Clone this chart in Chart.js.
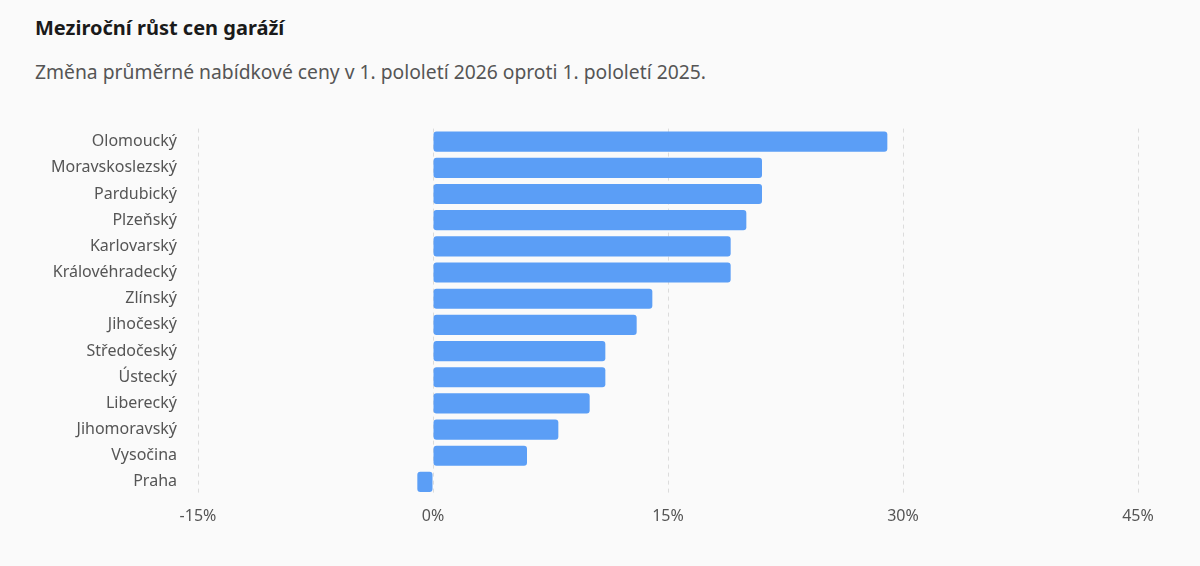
<!DOCTYPE html>
<html>
<head>
<meta charset="utf-8">
<script src="https://cdn.jsdelivr.net/npm/chart.js@4"></script>
<style>
  body { margin: 0; background: #fafafa; font-family: "Noto Sans", sans-serif; width: 1200px; height: 566px; position: relative; overflow: hidden; }
  h1 { position: absolute; left: 35px; top: 14px; margin: 0; font-size: 20px; font-weight: 700; color: #1a1a1a; }
  p { position: absolute; left: 35px; top: 58px; margin: 0; font-size: 19.3px; color: #555; }
  #wrap { position: absolute; left: 0; top: 106px; width: 1200px; height: 460px; }
</style>
</head>
<body>
<h1>Meziroční růst cen garáží</h1>
<p>Změna průměrné nabídkové ceny v 1. pololetí 2026 oproti 1. pololetí 2025.</p>
<div id="wrap"><canvas id="chart"></canvas></div>
<script>
// Data
const regions = ["Olomoucký", "Moravskoslezský", "Pardubický", "Plzeňský", "Karlovarský", "Královéhradecký",
  "Zlínský", "Jihočeský", "Středočeský", "Ústecký", "Liberecký", "Jihomoravský", "Vysočina", "Praha"]
const growth = [29, 21, 21, 20, 19, 19, 14, 13, 11, 11, 10, 8, 6, -1]
const xTicks = [-15, 0, 15, 30, 45]

new Chart(document.getElementById("chart"), {
  type: "bar",
  data: {
    labels: regions,
    datasets: [{
      data: growth,
      backgroundColor: "#5b9ef6",
      borderRadius: 3,
      borderSkipped: false,
      categoryPercentage: 1,
      barPercentage: 0.77,
    }],
  },
  options: {
    indexAxis: "y",
    responsive: true,
    maintainAspectRatio: false,
    animation: false,
    layout: { padding: { top: 22, right: 62 } },
    plugins: { legend: { display: false }, tooltip: { enabled: false } },
    scales: {
      x: {
        min: -15, max: 45,
        afterBuildTicks: (axis) => { axis.ticks = xTicks.map((v) => ({ value: v })) },
        afterFit: (axis) => { axis.height = 71 },
        ticks: { callback: (v) => v + "%", color: "#555", font: { family: "Noto Sans", size: 16 }, padding: 12 },
        grid: { color: "#dcdcdc", drawTicks: false },
        border: { display: false, dash: [4, 4] },
      },
      y: {
        afterFit: (axis) => { axis.width = 198 },
        ticks: { color: "#555", font: { family: "Noto Sans", size: 16 }, padding: 13 },
        grid: { display: false },
        border: { display: false },
      },
    },
  },
})
</script>
</body>
</html>
